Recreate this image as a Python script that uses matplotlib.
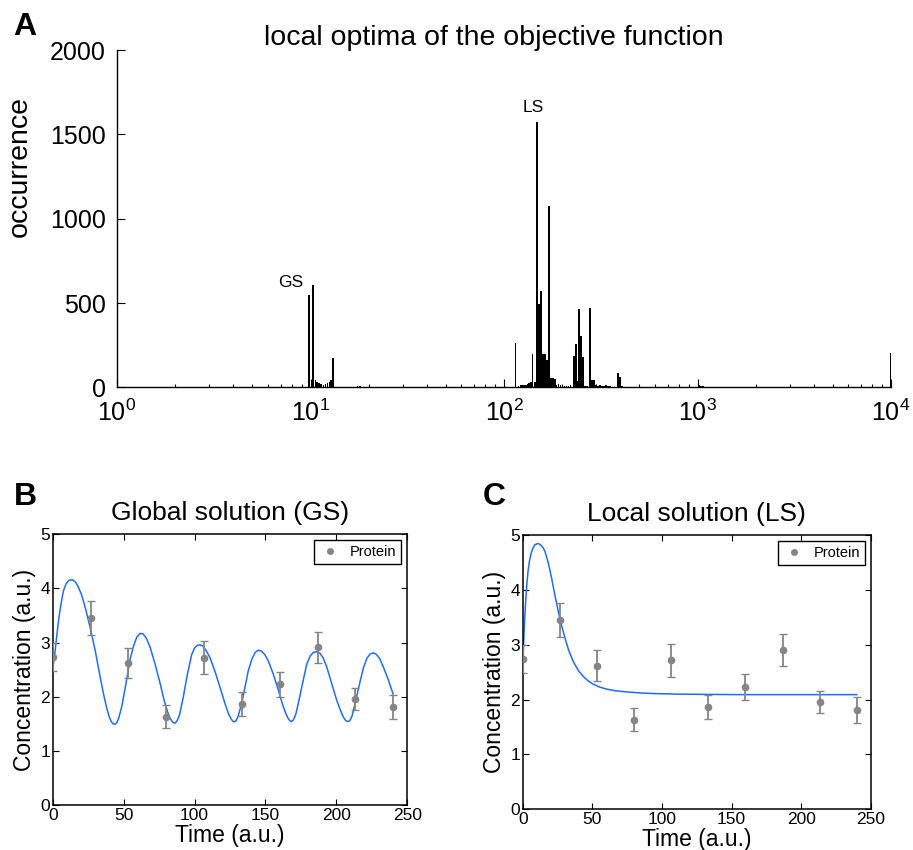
import numpy as np
import matplotlib
matplotlib.use('Agg')
import matplotlib.pyplot as plt
from matplotlib.ticker import LogLocator, NullFormatter, FixedLocator
from matplotlib.lines import Line2D

plt.rcParams['font.family'] = ['Liberation Sans', 'DejaVu Sans']
plt.rcParams['mathtext.fontset'] = 'custom'
plt.rcParams['mathtext.rm'] = 'Liberation Sans'
plt.rcParams['mathtext.default'] = 'regular'

# ---------------- data: histogram of local optima ----------------
optimum_values = [9.82, 10.34, 10.59, 10.84, 11.10, 11.37, 11.65, 11.93, 12.22, 12.51,
                  12.80, 13.07, 13.4, 14.5, 17.5, 18.0, 24, 35,
                  114.9, 119, 121.5, 124, 126.8, 129.5, 132.3, 135, 137.4, 140.6,
                  144.1, 147.6, 151.1, 154.8, 158.5, 162.3, 166.3, 170.3, 174.3,
                  178.5, 182.8, 187.1, 191.6, 196.2, 200.9, 205.6, 210.6, 215.6,
                  220.7, 230.0, 235.5, 240.3, 245.0, 250.0, 256.0, 262, 268, 278,
                  285, 292, 299, 306, 313, 321, 328, 336, 344, 352, 360, 369, 378,
                  389.7, 399, 408, 420, 450, 1015, 1040, 1065, 1090, 1120, 1150, 9950]
occurrences = [550, 609, 47, 35, 25, 18, 14, 18, 25, 33,
               45, 172, 5, 3, 6, 9, 3, 2,
               264, 8, 12, 14, 12, 16, 20, 25, 35, 200,
               30, 1576, 497, 574, 200, 200, 165, 1077, 55,
               55, 50, 15, 18, 12, 15, 10, 8, 8,
               12, 189, 260, 37, 467, 304, 180, 10, 8, 471,
               47, 45, 15, 10, 12, 8, 10, 12, 6, 8, 5, 5, 4,
               85, 62, 6, 4, 3, 12, 8, 6, 5, 4, 3, 207]

# ---------------- data: protein measurements ----------------
time_points = [0, 26.7, 53.3, 80, 106.7, 133.3, 160, 186.7, 213.3, 240]
protein_mean = [2.74, 3.45, 2.62, 1.63, 2.72, 1.86, 2.23, 2.91, 1.96, 1.81]
protein_err = [0.26, 0.31, 0.28, 0.21, 0.30, 0.22, 0.23, 0.29, 0.20, 0.23]

# ---------------- data: model curves ----------------
gs_time = [0, 1.5, 2.8, 4, 5.5, 7.5, 9.5, 11.5, 13.8, 16, 18, 20.4, 23, 26.3, 30, 33.4,
           36, 38, 39.8, 41.3, 42.6, 43.9, 45.2, 46.6, 48.7, 51.5, 54.5, 57, 59.3, 61.6,
           63.8, 66, 68.6, 72, 75.7, 78.5, 81, 82.8, 84.5, 86.2, 87.8, 89.5, 92.1, 95,
           98, 100, 102, 104, 106, 108, 110.9, 114.5, 118, 121.5, 124, 126, 127.4,
           128.8, 130.5, 133.3, 135.5, 137.9, 140.5, 142.8, 145, 147.2, 149.5, 152,
           155.5, 159.1, 162, 164.5, 166.4, 168.1, 169.7, 171.3, 173.2, 176, 179.1, 181.5,
           183.8, 186.2, 188.5, 190.8, 193.2, 196.5, 200.3, 203, 205, 206.6, 208, 209.5,
           211, 213.2, 216, 219, 221.5, 223.8, 226.1, 228.3, 230.6, 233.1, 236.5, 240]
gs_conc = [2.50, 2.80, 3.11, 3.38, 3.66, 3.95, 4.09, 4.15, 4.16, 4.12, 4.03, 3.88, 3.64,
           3.29, 2.85, 2.37, 2.03, 1.80, 1.63, 1.54, 1.50, 1.49, 1.52, 1.61, 1.82, 2.22,
           2.68, 2.94, 3.10, 3.17, 3.16, 3.08, 2.92, 2.62, 2.25, 1.94, 1.72, 1.60, 1.53,
           1.51, 1.56, 1.67, 2.00, 2.42, 2.78, 2.90, 2.95, 2.96, 2.93, 2.86, 2.72, 2.46,
           2.17, 1.87, 1.68, 1.58, 1.54, 1.54, 1.62, 1.88, 2.17, 2.48, 2.70, 2.82, 2.86,
           2.84, 2.78, 2.66, 2.42, 2.12, 1.86, 1.68, 1.58, 1.54, 1.57, 1.67, 1.88, 2.23,
           2.60, 2.75, 2.82, 2.83, 2.80, 2.71, 2.55, 2.26, 1.93, 1.74, 1.62, 1.56, 1.54,
           1.56, 1.64, 1.88, 2.20, 2.53, 2.71, 2.79, 2.81, 2.78, 2.70, 2.55, 2.32, 2.05]
ls_time = [0, 0.5, 1, 1.5, 2, 2.9, 3.8, 4.8, 6, 7.3, 8.7, 10.2, 11.7, 13.2, 14.6, 16,
           18.5, 20.8, 23, 25.6, 28, 30.4, 33, 36.4, 40, 43.5, 47, 50.7, 55, 60.3, 67,
           74.7, 85, 93.8, 110, 130, 160, 200, 240]
ls_conc = [2.51, 2.90, 3.22, 3.50, 3.74, 4.08, 4.33, 4.52, 4.66, 4.76, 4.82, 4.84, 4.84,
           4.81, 4.77, 4.70, 4.48, 4.21, 3.92, 3.60, 3.34, 3.12, 2.90, 2.69, 2.53, 2.42,
           2.34, 2.28, 2.23, 2.19, 2.16, 2.14, 2.12, 2.11, 2.10, 2.095, 2.09, 2.09, 2.09]

# ---------------- figure ----------------
W, H = 913, 850
fig = plt.figure(figsize=(W / 100, H / 100), dpi=100)

def fbox(l, r, t, b):
    return [l / W, 1 - b / H, (r - l) / W, (b - t) / H]

# ---- panel A ----
axA = fig.add_axes(fbox(117, 891, 50, 387.5))
vals = np.array(optimum_values)
half = 0.0042
lefts = vals * 10 ** (-half)
widths = vals * (10 ** half - 10 ** (-half))
axA.bar(lefts, occurrences, width=widths, align='edge', color='black', edgecolor='none')
axA.set_xscale('log')
axA.set_xlim(1, 1e4)
axA.set_ylim(0, 2000)
axA.set_yticks([0, 500, 1000, 1500, 2000])
axA.xaxis.set_major_locator(FixedLocator([1, 10, 100, 1000, 10000]))
axA.xaxis.set_minor_locator(LogLocator(base=10, subs=np.arange(2, 10)))
axA.xaxis.set_minor_formatter(NullFormatter())
for s in ['top', 'right']:
    axA.spines[s].set_visible(False)
for s in ['left', 'bottom']:
    axA.spines[s].set_linewidth(1.0)
axA.tick_params(axis='both', which='major', direction='in', length=5.5, width=0.8,
                labelsize=18)
axA.tick_params(axis='x', which='major', pad=9)
axA.tick_params(axis='y', which='major', pad=8)
axA.tick_params(axis='x', which='minor', direction='in', length=2.5, width=0.8)
axA.set_ylabel('occurrence', fontsize=20.5)
axA.yaxis.set_label_coords(-0.109, 0.655)
fig.text(493.5 / W, 1 - 38 / H, 'local optima of the objective function', fontsize=20.5,
         ha='center', va='center')
axA.text(7.93, 625, 'GS', fontsize=12.5, ha='center', va='center')
axA.text(141, 1662, 'LS', fontsize=12.5, ha='center', va='center')

# ---- panels B and C ----
line_color = '#1f6cff'
pt_color = '#858585'

def conc_panel(box, t, c, title):
    ax = fig.add_axes(box)
    ax.plot(t, c, color=line_color, lw=1.1, zorder=2)
    ax.errorbar(time_points, protein_mean, yerr=protein_err, fmt='none',
                ecolor=pt_color, elinewidth=1.3, capsize=3, capthick=1.0, zorder=3)
    ax.plot(time_points, protein_mean, 'o', color=pt_color, ms=4.5, zorder=4)
    ax.set_xlim(0, 250)
    ax.set_ylim(0, 5)
    ax.set_xticks([0, 50, 100, 150, 200, 250])
    ax.set_yticks([0, 1, 2, 3, 4, 5])
    ax.tick_params(direction='in', top=True, right=True, length=4, width=0.8,
                   labelsize=12.5, pad=2)
    for s in ax.spines.values():
        s.set_linewidth(1.1)
    ax.set_xlabel('Time (a.u.)', fontsize=16.5, labelpad=1)
    ax.set_ylabel('Concentration (a.u.)', fontsize=16.5, labelpad=3)
    ax.set_title(title, fontsize=19, pad=10)
    handle = Line2D([], [], color=pt_color, marker='o', ls='none', ms=4)
    leg = ax.legend([handle], ['Protein'], loc='upper right', fontsize=10.5,
                    fancybox=False, framealpha=1, edgecolor='black',
                    borderaxespad=0.4, handlelength=1.5, handletextpad=0.6,
                    borderpad=0.35)
    leg.get_frame().set_linewidth(1.0)
    return ax

conc_panel(fbox(52.7, 407.3, 534.3, 805), gs_time, gs_conc, 'Global solution (GS)')
conc_panel(fbox(522.7, 870.7, 535, 809.3), ls_time, ls_conc, 'Local solution (LS)')

fig.text(25 / W, 1 - 27 / H, 'A', fontsize=23, fontweight='bold', ha='center', va='center')
fig.text(25 / W, 1 - 497 / H, 'B', fontsize=23, fontweight='bold', ha='center', va='center')
fig.text(494 / W, 1 - 497 / H, 'C', fontsize=23, fontweight='bold', ha='center', va='center')

fig.savefig('out.png', dpi=100)
